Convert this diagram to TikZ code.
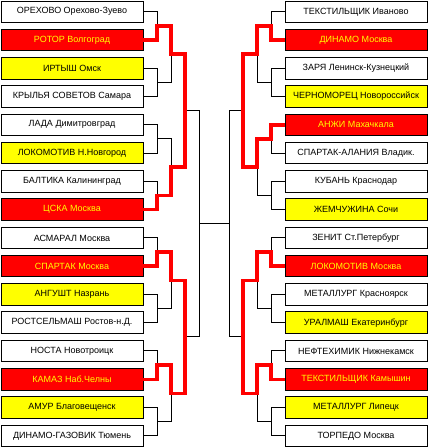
\documentclass[tikz,border=0pt]{standalone}
\usepackage{fontspec}
\setmainfont{Liberation Sans}
\usetikzlibrary{positioning, calc}
\definecolor{CupRed}{HTML}{FF0000}
\definecolor{CupYellow}{HTML}{FFFF00}

\begin{document}
\begin{tikzpicture}[
      x=1pt, y=-1pt,
      node distance=6.77pt,
      box/.style={draw=black, fill=white, line width=1pt, outer sep=0pt, minimum height=21.5pt, minimum width=142pt, inner sep=1pt, font=\fontsize{9}{10}\selectfont},
      yelbox/.style={box, fill=CupYellow},
      redbox/.style={box, fill=CupRed, text=CupYellow},
      link/.style={draw=black, line width=1pt},
      win/.style={draw=CupRed, line width=3.5pt, line join=miter}
    ]
      \useasboundingbox (0,0) rectangle (428,448);
      % left half
      \node[box] (L0) at (72,11.75) {ОРЕХОВО Орехово-Зуево};
      \node[redbox, below=of L0] (L1) {РОТОР Волгоград};
      \node[yelbox, below=of L1] (L2) {ИРТЫШ Омск};
      \node[box, below=of L2] (L3) {КРЫЛЬЯ СОВЕТОВ Самара};
      \node[box, below=of L3] (L4) {ЛАДА Димитровград};
      \node[yelbox, below=of L4] (L5) {ЛОКОМОТИВ Н.Новгород};
      \node[box, below=of L5] (L6) {БАЛТИКА Калининград};
      \node[redbox, below=of L6] (L7) {ЦСКА Москва};
      \node[box, below=of L7] (L8) {АСМАРАЛ Москва};
      \node[redbox, below=of L8] (L9) {СПАРТАК Москва};
      \node[yelbox, below=of L9] (L10) {АНГУШТ Назрань};
      \node[box, below=of L10] (L11) {РОСТСЕЛЬМАШ Ростов-н.Д.};
      \node[box, below=of L11] (L12) {НОСТА Новотроицк};
      \node[redbox, below=of L12] (L13) {КАМАЗ Наб.Челны};
      \node[yelbox, below=of L13] (L14) {АМУР Благовещенск};
      \node[box, below=of L14] (L15) {ДИНАМО-ГАЗОВИК Тюмень};
      % right half
      \node[box] (R0) at (356,11.75) {ТЕКСТИЛЬЩИК Иваново};
      \node[redbox, below=of R0] (R1) {ДИНАМО Москва};
      \node[box, below=of R1] (R2) {ЗАРЯ Ленинск-Кузнецкий};
      \node[yelbox, below=of R2] (R3) {ЧЕРНОМОРЕЦ Новороссийск};
      \node[redbox, below=of R3] (R4) {АНЖИ Махачкала};
      \node[box, below=of R4] (R5) {СПАРТАК-АЛАНИЯ Владик.};
      \node[box, below=of R5] (R6) {КУБАНЬ Краснодар};
      \node[yelbox, below=of R6] (R7) {ЖЕМЧУЖИНА Сочи};
      \node[box, below=of R7] (R8) {ЗЕНИТ Ст.Петербург};
      \node[redbox, below=of R8] (R9) {ЛОКОМОТИВ Москва};
      \node[box, below=of R9] (R10) {МЕТАЛЛУРГ Красноярск};
      \node[yelbox, below=of R10] (R11) {УРАЛМАШ Екатеринбург};
      \node[box, below=of R11] (R12) {НЕФТЕХИМИК Нижнекамск};
      \node[redbox, below=of R12] (R13) {ТЕКСТИЛЬЩИК Камышин};
      \node[yelbox, below=of R13] (R14) {МЕТАЛЛУРГ Липецк};
      \node[box, below=of R14] (R15) {ТОРПЕДО Москва};
      % first round
      \foreach \k [evaluate=\k as \a using {int(2*\k)}, evaluate=\k as \b using {int(2*\k+1)}] in {0,...,7} {
        \draw[link] (L\a.east) -- ++(14,0) |- (L\b.east);
        \coordinate (Lp\k) at ($(L\a.east)!.5!(L\b.east)+(14,0)$);
        \draw[link] (R\a.west) -- ++(-14,0) |- (R\b.west);
        \coordinate (Rp\k) at ($(R\a.west)!.5!(R\b.west)+(-14,0)$);
      }
      % second round
      \foreach \k [evaluate=\k as \a using {int(2*\k)}, evaluate=\k as \b using {int(2*\k+1)}] in {0,...,3} {
        \draw[link] (Lp\a) -- ++(14,0) |- (Lp\b);
        \coordinate (Lq\k) at ($(Lp\a)!.5!(Lp\b)+(14,0)$);
        \draw[link] (Rp\a) -- ++(-14,0) |- (Rp\b);
        \coordinate (Rq\k) at ($(Rp\a)!.5!(Rp\b)+(-14,0)$);
      }
      % quarter finals
      \foreach \k [evaluate=\k as \a using {int(2*\k)}, evaluate=\k as \b using {int(2*\k+1)}] in {0,1} {
        \draw[link] (Lq\a) -- ++(14,0) |- (Lq\b);
        \coordinate (Ls\k) at ($(Lq\a)!.5!(Lq\b)+(14,0)$);
        \draw[link] (Rq\a) -- ++(-14,0) |- (Rq\b);
        \coordinate (Rs\k) at ($(Rq\a)!.5!(Rq\b)+(-14,0)$);
      }
      % semi finals and final
      \draw[link] (Ls0) -- ++(14,0) |- (Ls1);
      \coordinate (Lf) at ($(Ls0)!.5!(Ls1)+(14,0)$);
      \draw[link] (Rs0) -- ++(-14,0) |- (Rs1);
      \coordinate (Rf) at ($(Rs0)!.5!(Rs1)+(-14,0)$);
      \draw[link] (Lf) -- (Rf);
      % teams still in
      \draw[win] (L1.east) -| (Lp0) -| (Lq0) -| (Ls0) |- (Lq1) |- (Lp3) |- (L7.east);
      \draw[win] (L9.east) -| (Lp4) -| (Lq2) -| (Ls1) |- (Lq3) |- (Lp6) |- (L13.east);
      \draw[win] (R1.west) -| (Rp0) -| (Rq0) -| (Rs0) |- (Rq1) |- (Rp2) |- (R4.west);
      \draw[win] (R9.west) -| (Rp4) -| (Rq2) -| (Rs1) |- (Rq3) |- (Rp6) |- (R13.west);
    \end{tikzpicture}
\end{document}
